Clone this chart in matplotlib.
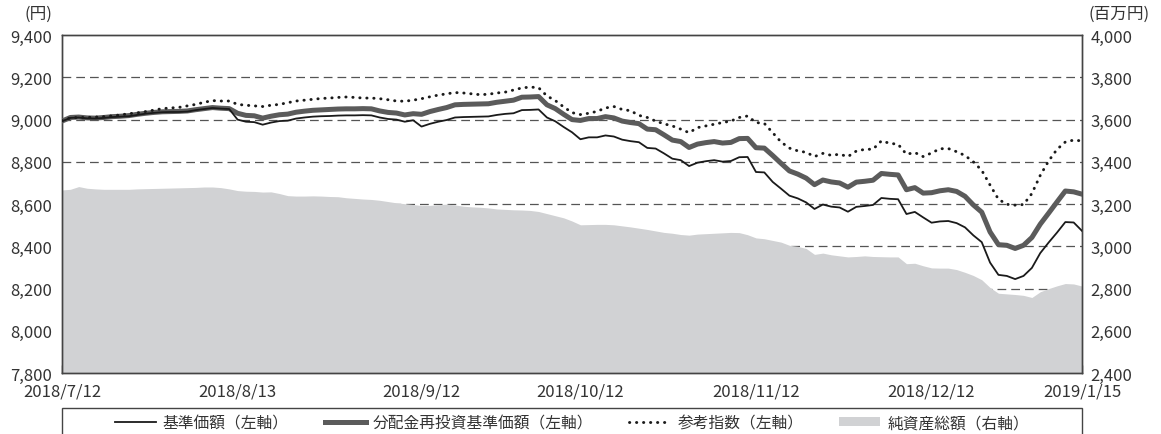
import numpy as np
import pandas as pd
import matplotlib
matplotlib.use("Agg")
import matplotlib.pyplot as plt
from matplotlib.lines import Line2D
from matplotlib.patches import Patch, Rectangle

plt.rcParams['font.family'] = ['Noto Sans CJK JP', 'DejaVu Sans']

# Japanese business days 2018/7/12 - 2019/1/15
holidays = ["2018-07-16", "2018-09-17", "2018-09-24", "2018-10-08", "2018-11-23",
            "2018-12-24", "2018-12-31", "2019-01-01", "2019-01-02", "2019-01-03",
            "2019-01-14"]
dates = pd.bdate_range("2018-07-12", "2019-01-15", freq="C", holidays=holidays)

tick_dates = ["2018-07-12", "2018-08-13", "2018-09-12", "2018-10-12",
              "2018-11-12", "2018-12-12", "2019-01-15"]
tick_labels = ["2018/7/12", "2018/8/13", "2018/9/12", "2018/10/12",
               "2018/11/12", "2018/12/12", "2019/1/15"]

# 基準価額 (左軸, 円)
nav = [8992, 9008, 9010, 9006, 9005, 9008, 9012, 9014, 9016, 9022,
       9028, 9032, 9035, 9036, 9036, 9038, 9045, 9050, 9055, 9052,
       9050, 9000, 8990, 8988, 8976, 8986, 8993, 8995, 9005, 9010,
       9014, 9016, 9017, 9019, 9020, 9020, 9021, 9020, 9010, 9003,
       9000, 8990, 8997, 8967, 8980, 8990, 8998, 9010, 9012, 9013,
       9014, 9015, 9022, 9027, 9030, 9045, 9046, 9048, 9010, 8992,
       8965, 8940, 8907, 8916, 8916, 8925, 8920, 8905, 8898, 8893,
       8866, 8863, 8840, 8815, 8808, 8780, 8796, 8803, 8808, 8801,
       8804, 8822, 8823, 8752, 8750, 8705, 8673, 8640, 8627, 8608,
       8577, 8598, 8588, 8584, 8564, 8587, 8591, 8596, 8629, 8625,
       8623, 8553, 8563, 8537, 8512, 8518, 8520, 8510, 8490, 8452,
       8420, 8323, 8265, 8260, 8245, 8260, 8298, 8368, 8418, 8465,
       8515, 8513, 8473]

# 分配金再投資基準価額 (左軸, 円)
nav_reinv = [8993, 9010, 9012, 9008, 9007, 9010, 9014, 9016, 9019, 9025,
             9030, 9034, 9037, 9038, 9039, 9041, 9047, 9052, 9057, 9054,
             9052, 9030, 9020, 9018, 9007, 9016, 9023, 9026, 9035, 9040,
             9044, 9046, 9048, 9050, 9051, 9051, 9052, 9051, 9041, 9034,
             9031, 9022, 9028, 9025, 9038, 9048, 9057, 9070, 9072, 9073,
             9074, 9075, 9082, 9087, 9092, 9106, 9107, 9109, 9070, 9052,
             9025, 9000, 8996, 9005, 9005, 9014, 9008, 8993, 8986, 8981,
             8955, 8952, 8928, 8903, 8896, 8868, 8884, 8891, 8896, 8889,
             8892, 8910, 8911, 8867, 8865, 8830, 8793, 8757, 8742, 8723,
             8692, 8714, 8705, 8700, 8680, 8704, 8708, 8713, 8745, 8741,
             8738, 8668, 8678, 8652, 8654, 8663, 8668, 8660, 8637, 8596,
             8562, 8468, 8408, 8405, 8390, 8405, 8442, 8505, 8557, 8610,
             8662, 8658, 8647]

# 参考指数 (左軸)
ref_index = [8995, 9008, 9010, 9010, 9012, 9014, 9018, 9022, 9028, 9032,
             9038, 9045, 9052, 9055, 9058, 9065, 9072, 9082, 9090, 9088,
             9088, 9072, 9068, 9065, 9062, 9068, 9072, 9080, 9088, 9092,
             9096, 9100, 9102, 9105, 9107, 9105, 9102, 9102, 9099, 9094,
             9088, 9087, 9092, 9099, 9108, 9116, 9122, 9128, 9126, 9122,
             9118, 9120, 9126, 9130, 9140, 9150, 9154, 9151, 9112, 9090,
             9060, 9033, 9024, 9030, 9039, 9055, 9062, 9048, 9042, 9020,
             9010, 8993, 8980, 8970, 8955, 8938, 8962, 8970, 8978, 8986,
             8993, 9010, 9017, 8986, 8982, 8938, 8894, 8865, 8852, 8845,
             8825, 8840, 8831, 8836, 8825, 8851, 8859, 8860, 8899, 8888,
             8883, 8836, 8844, 8825, 8842, 8862, 8863, 8848, 8830, 8800,
             8760, 8690, 8623, 8599, 8595, 8598, 8650, 8736, 8804, 8859,
             8894, 8903, 8899]

# 純資産総額 (右軸, 百万円)
net_assets = [3267, 3270, 3283, 3275, 3272, 3270, 3270, 3270, 3270, 3272,
              3273, 3274, 3275, 3276, 3277, 3278, 3279, 3281, 3281, 3278,
              3272, 3264, 3261, 3260, 3257, 3258, 3250, 3240, 3238, 3238,
              3239, 3238, 3236, 3235, 3230, 3227, 3224, 3222, 3218, 3212,
              3206, 3202, 3198, 3193, 3194, 3197, 3200, 3196, 3190, 3187,
              3185, 3182, 3177, 3175, 3173, 3172, 3170, 3165, 3155, 3145,
              3135, 3120, 3102, 3103, 3104, 3104, 3102, 3097, 3092, 3086,
              3080, 3073, 3066, 3062, 3056, 3053, 3058, 3060, 3062, 3064,
              3066, 3065, 3055, 3040, 3036, 3028, 3020, 3005, 3000, 2990,
              2962, 2968, 2960, 2955, 2950, 2952, 2955, 2952, 2951, 2950,
              2950, 2918, 2920, 2908, 2898, 2897, 2897, 2890, 2877, 2862,
              2842, 2805, 2778, 2775, 2772, 2768, 2758, 2785, 2800, 2813,
              2824, 2822, 2812]

left_ticks = [7800, 8000, 8200, 8400, 8600, 8800, 9000, 9200, 9400]
right_ticks = [2400, 2600, 2800, 3000, 3200, 3400, 3600, 3800, 4000]

x = np.arange(len(dates))
tick_pos = [dates.get_loc(pd.Timestamp(d)) for d in tick_dates]

fig = plt.figure(figsize=(11.61, 4.35), dpi=100)
ax2 = fig.add_axes([0.0534, 0.140, 0.8786, 0.777])
ax = ax2.twinx()
ax.yaxis.tick_left()
ax2.yaxis.tick_right()

grid_col = "#555555"
fill_col = "#d1d2d4"
txt_col = "#333333"

# 純資産総額 area on the right axis, behind the lines
ax2.fill_between(x, right_ticks[0], net_assets, color=fill_col, lw=0, zorder=2)
ax2.set_ylim(right_ticks[0], right_ticks[-1])
ax2.set_yticks(right_ticks)
ax2.set_yticklabels([f"{v:,}" for v in right_ticks])
for v in right_ticks[1:-1]:
    ax2.axhline(v, color=grid_col, lw=0.9, dashes=(7, 4), zorder=1)

ax.set_zorder(ax2.get_zorder() + 1)
ax.patch.set_visible(False)
ax.plot(x, nav_reinv, color="#5b5b5b", lw=3.6, zorder=3)
ax.plot(x, nav, color="#1a1a1a", lw=1.3, zorder=4)
ax.plot(x, ref_index, color="#1a1a1a", lw=2.1, linestyle=(0, (0.1, 2.3)),
        dash_capstyle="round", zorder=5)
ax.set_ylim(left_ticks[0], left_ticks[-1])
ax.set_yticks(left_ticks)
ax.set_yticklabels([f"{v:,}" for v in left_ticks])

ax.set_xlim(x[0], x[-1])
ax2.set_xticks(tick_pos)
ax2.set_xticklabels(tick_labels)

for a in (ax, ax2):
    for s in a.spines.values():
        s.set_color("#444444")
        s.set_linewidth(1.0)
ax.tick_params(axis="y", length=0, labelsize=12, pad=7, colors=txt_col)
ax2.tick_params(axis="y", length=0, labelsize=12, pad=6, colors=txt_col)
ax2.tick_params(axis="x", direction="in", length=6, width=1, color="#444444",
                labelsize=12, pad=7, labelcolor=txt_col)

fig.text(38 / 1161, 1 - 14 / 435, "(円)", ha="center", va="center",
         fontsize=12, color=txt_col)
fig.text(1088 / 1161, 1 - 14 / 435, "(百万円)", ha="left", va="center",
         fontsize=12, color=txt_col)

# legend below the plot, framed box spanning the axes width
handles = [
    Line2D([], [], color="#1a1a1a", lw=1.3),
    Line2D([], [], color="#5b5b5b", lw=3.6),
    Line2D([], [], color="#1a1a1a", lw=2.1, linestyle=(0, (0.1, 2.3)),
           dash_capstyle="round"),
    Patch(facecolor=fill_col, edgecolor="none"),
]
labels = ["基準価額（左軸）", "分配金再投資基準価額（左軸）", "参考指数（左軸）", "純資産総額（右軸）"]
ax.legend(handles, labels, loc="center", bbox_to_anchor=(0.5, -0.147), ncol=4,
          frameon=False, fontsize=11.3, handlelength=2.6, handleheight=0.55,
          handletextpad=0.45, columnspacing=2.3, labelcolor=txt_col)
ax.add_patch(Rectangle((0, -0.3), 1, 0.1964, transform=ax.transAxes, fill=False,
                       edgecolor="#444444", lw=1.0, clip_on=False))

fig.savefig("out.png", dpi=100)
